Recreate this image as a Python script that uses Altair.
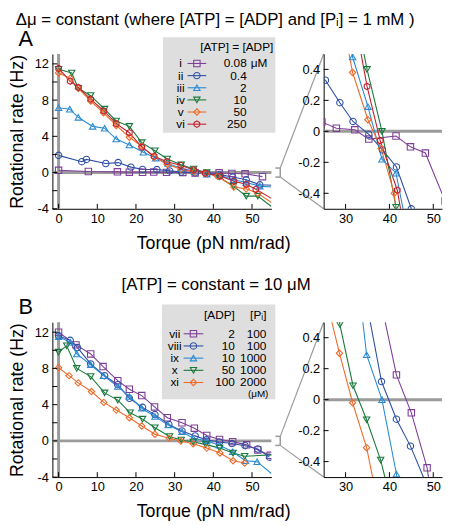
import altair as alt
import pandas as pd

FONT = "Liberation Sans"
GRAY = "#9b9b9b"

TITLE_A = "Δμ = constant (where [ATP]  = [ADP] and [Pᵢ] = 1 mM )"
TITLE_B = "[ATP] = constant = 10 μM"
X_TITLE = "Torque (pN nm/rad)"
Y_TITLE = "Rotational rate (Hz)"

# ---------------- Panel A : [ATP] = [ADP], [Pi] = 1 mM ----------------
A_series = ["i", "ii", "iii", "iv", "v", "vi"]
A_atp_adp = ["0.08", "0.4", "2", "10", "50", "250"]
A_colors = ["#7f3f98", "#2e4fa3", "#2a8bd4", "#1a7a3c", "#ee6c2c", "#c21f2f"]

A_i_torque = [0, 7.7, 15.2, 18.3, 21.7, 24.6, 27.9, 32.1, 35.3, 41.5, 44.8, 48.2, 52.7]
A_i_rate = [0.25, 0.12, 0.08, 0.04, 0.03, 0.06, 0.02, 0.01, -0.05, -0.03, -0.1, -0.14, -0.45]
A_ii_torque = [0, 6.0, 7.2, 12.2, 15.4, 18.7, 21.7, 25.4, 28.7, 31.7, 35.3, 38.4, 41.6, 45.0, 48.5, 52.0]
A_ii_rate = [1.9, 1.2, 1.45, 1.0, 1.1, 0.6, 0.35, 0.33, 0.185, 0.064, -0.02, -0.12, -0.23, -0.5, -0.8, -1.35]
A_iii_torque = [0, 2.9, 5.1, 8.8, 11.9, 14.9, 18.3, 21.9, 25.1, 28.3, 31.6, 35.1, 38.3, 41.5, 45.2, 48.5, 52.0]
A_iii_rate = [7.15, 7.0, 6.1, 5.1, 4.9, 3.7, 3.05, 2.25, 1.6, 1.0, 0.48, 0.16, -0.18, -0.27, -0.8, -1.1, -1.5]
A_iv_torque = [0, 3.4, 5.1, 8.3, 11.9, 14.9, 18.3, 21.5, 24.9, 28.1, 31.7, 34.9, 38.3, 41.5, 45.2, 48.5, 51.5]
A_iv_rate = [11.4, 11.0, 9.3, 8.5, 7.0, 5.7, 5.1, 3.3, 2.4, 1.5, 0.85, 0.4, 0.0, -0.49, -1.5, -2.6, -2.6]
A_v_torque = [0, 3.0, 5.1, 8.3, 11.6, 14.9, 18.3, 21.5, 24.7, 28.1, 31.6, 35.1, 38.1, 41.1, 45.3, 48.5, 51.5]
A_v_rate = [11.0, 10.4, 9.3, 7.9, 6.6, 5.2, 3.9, 2.9, 1.7, 0.9, 0.38, 0.075, -0.11, -0.4, -1.6, -1.8, -2.3]
A_vi_torque = [0, 3.0, 5.1, 8.3, 11.7, 14.9, 18.3, 21.5, 24.7, 28.0, 31.6, 34.9, 37.9, 41.8, 45.3, 48.5, 51.0]
A_vi_rate = [11.5, 10.1, 9.4, 8.1, 6.8, 5.4, 4.4, 2.8, 1.8, 1.2, 0.8, 0.29, -0.06, -0.38, -0.95, -1.3, -1.85]
# line continues (without marker) to the right edge of the axis
A_tail_series = ["ii", "iii", "iv", "v", "vi"]
A_tail_torque = [55, 55, 55, 55, 55]
A_tail_rate = [-1.4, -1.6, -3.75, -3.3, -2.85]

# ---------------- Panel B : [ATP] = 10 uM ----------------
B_series = ["vii", "viii", "ix", "x", "xi"]
B_adp = ["2", "10", "10", "50", "100"]
B_pi = ["100", "100", "1000", "1000", "2000"]
B_colors = ["#7f3f98", "#2e4fa3", "#2a8bd4", "#1a7a3c", "#ee6c2c"]

B_vii_torque = [0, 4.5, 8.3, 11.5, 15.3, 18.3, 21.5, 24.8, 28.1, 31.9, 35.1, 38.3, 41.6, 45.0, 48.6, 51.5, 54.7]
B_vii_rate = [12.0, 10.6, 9.6, 8.2, 6.65, 5.7, 5.0, 3.75, 2.55, 2.0, 1.4, 0.6, 0.16, -0.085, -0.44, -1.0, -1.6]
B_viii_torque = [0, 3.0, 4.9, 8.3, 11.9, 15.3, 18.3, 21.7, 24.9, 28.5, 31.9, 35.3, 38.2, 41.6, 44.8, 48.2, 51.5, 54.5]
B_viii_rate = [11.6, 11.1, 10.3, 8.5, 7.2, 6.2, 4.7, 3.7, 2.9, 1.82, 1.1, 0.55, 0.117, -0.126, -0.30, -0.53, -0.9, -1.8]
B_ix_torque = [0, 3.0, 4.7, 8.3, 11.6, 15.3, 18.3, 21.5, 24.9, 28.3, 31.9, 34.8, 38.3, 41.6, 45.0, 48.3, 51.3]
B_ix_rate = [11.5, 10.9, 9.6, 8.4, 7.2, 6.0, 4.9, 3.6, 2.7, 1.75, 1.0, 0.29, 0.0, -0.48, -1.2, -2.2, -2.3]
B_x_torque = [0, 2.1, 4.7, 8.3, 11.9, 15.3, 18.5, 21.7, 24.9, 28.7, 31.7, 34.8, 38.0, 41.6, 45.1, 48.1]
B_x_rate = [9.8, 10.5, 8.0, 7.1, 5.3, 4.5, 3.1, 2.4, 1.45, 0.485, 0.09, -0.13, -0.39, -0.8, -1.35, -1.7]
B_xi_torque = [0, 2.7, 5.1, 8.5, 11.7, 14.9, 18.3, 21.5, 24.9, 28.6, 31.6, 34.8, 38.3, 41.7, 45.1, 48.1]
B_xi_rate = [8.07, 7.2, 6.4, 5.45, 4.25, 3.4, 2.55, 1.64, 0.73, 0.30, -0.02, -0.31, -0.8, -1.34, -2.2, -2.45]
B_tail_series = ["ix", "x"]
B_tail_torque = [55, 55]
B_tail_rate = [-3.6, -1.55]

# tick values
MAIN_X_TICKS = [0, 10, 20, 30, 40, 50]
MAIN_Y_LABELS = [-4, 0, 4, 8, 12]
MAIN_Y_TICKS = [-4, -2, 0, 2, 4, 6, 8, 10, 12]
INSET_X_TICKS = [30, 40, 50]
INSET_Y_TICKS = [-0.4, -0.2, 0, 0.2, 0.4]

HEX = "M0,-1L0.866,-0.5L0.866,0.5L0,1L-0.866,0.5L-0.866,-0.5Z"
A_shapes = ["square", "circle", "triangle-up", "triangle-down", "diamond", HEX]
B_shapes = ["square", "circle", "triangle-up", "triangle-down", "diamond"]

MW, MH = 222, 157   # main panel plot area
IW, IH = 120, 157   # inset plot area
GAP = 53
MSIZE = 42

AXIS_STYLE = dict(
    domainColor="black", domainWidth=1, ticks=False, grid=False,
    labelFont=FONT, labelFontSize=13, labelColor="black", labelPadding=4,
    labelFontWeight="normal",
    titleFont=FONT, titleFontSize=18, titleFontWeight="normal", titleColor="black",
)


def build(names, xs_list, ys_list, tail_s, tail_x, tail_y):
    rows = []
    for s, xs, ys in zip(names, xs_list, ys_list):
        for x, y in zip(xs, ys):
            rows.append(dict(series=s, torque=x, rate=y, mark=1))
    for s, x, y in zip(tail_s, tail_x, tail_y):
        rows.append(dict(series=s, torque=x, rate=y, mark=0))
    return pd.DataFrame(rows)


dfA = build(A_series,
            [A_i_torque, A_ii_torque, A_iii_torque, A_iv_torque, A_v_torque, A_vi_torque],
            [A_i_rate, A_ii_rate, A_iii_rate, A_iv_rate, A_v_rate, A_vi_rate],
            A_tail_series, A_tail_torque, A_tail_rate)
dfB = build(B_series,
            [B_vii_torque, B_viii_torque, B_ix_torque, B_x_torque, B_xi_torque],
            [B_vii_rate, B_viii_rate, B_ix_rate, B_x_rate, B_xi_rate],
            B_tail_series, B_tail_torque, B_tail_rate)


def one(**kw):
    return pd.DataFrame({k: [v] for k, v in kw.items()})


def data_layers(df, X, Y, cs, ss):
    color = alt.Color("series:N", scale=cs, legend=None)
    shape = alt.Shape("series:N", scale=ss, legend=None)
    lines = alt.Chart(df).mark_line(clip=True, strokeWidth=1.1).encode(
        x=X, y=Y, color=color, detail="series:N", order="torque:Q")
    pts = alt.Chart(df).transform_filter("datum.mark == 1").mark_point(
        clip=True, filled=False, size=MSIZE, strokeWidth=1.1, opacity=1).encode(
        x=X, y=Y, color=color, shape=shape)
    return [lines, pts]


def tick_layers(X, Y, xt, yt, H):
    tx = alt.Chart(pd.DataFrame({"torque": xt})).mark_rule(color="black", strokeWidth=1).encode(
        x=X, y=alt.value(H), y2=alt.value(H - 5))
    ty = alt.Chart(pd.DataFrame({"rate": yt})).mark_rule(color="black", strokeWidth=1).encode(
        y=Y, x=alt.value(0), x2=alt.value(5))
    return [tx, ty]


def text_at(t, x, y, size, align="center"):
    return alt.Chart(one(t=t)).mark_text(
        font=FONT, fontSize=size, align=align, baseline="middle", color="black").encode(
        text="t:N", x=alt.value(x), y=alt.value(y))


def main_panel(df, names, colors, shapes, title, letter, legend):
    xs = alt.Scale(domain=[-1.6, 55], nice=False, zero=False)
    ys = alt.Scale(domain=[-4, 13.1], nice=False, zero=False)
    X = alt.X("torque:Q", scale=xs, title=X_TITLE,
              axis=alt.Axis(values=MAIN_X_TICKS, labelExpr="'' + datum.value",
                            titlePadding=9, titleX=163, titleAlign="center", **AXIS_STYLE))
    Y = alt.Y("rate:Q", scale=ys, title=Y_TITLE,
              axis=alt.Axis(values=MAIN_Y_LABELS, labelExpr="'' + datum.value",
                            titlePadding=8, **AXIS_STYLE))
    cs = alt.Scale(domain=names, range=colors)
    ss = alt.Scale(domain=names, range=shapes)

    zero_v = alt.Chart(one(torque=0)).mark_rule(color=GRAY, strokeWidth=3).encode(x=X)
    zero_h = alt.Chart(one(rate=0)).mark_rule(color=GRAY, strokeWidth=3).encode(y=Y)

    layers = [zero_v, zero_h] + data_layers(df, X, Y, cs, ss) + tick_layers(X, Y, MAIN_X_TICKS, MAIN_Y_TICKS, MH)
    layers += legend(cs, ss)

    # zoom bracket and connectors to the inset
    bx0, bx1 = MW + 4, MW + 9
    layers.append(alt.Chart(one(rate=0.5, rate2=-0.5)).mark_rule(color=GRAY, strokeWidth=1.5).encode(
        x=alt.value(bx1), y=Y, y2="rate2:Q"))
    for v in (0.5, -0.5):
        layers.append(alt.Chart(one(rate=v)).mark_rule(color=GRAY, strokeWidth=1.5).encode(
            x=alt.value(bx0), x2=alt.value(bx1), y=Y))
    layers.append(alt.Chart(one(rate=0.5)).mark_rule(color=GRAY, strokeWidth=1.2).encode(
        x=alt.value(bx1), y=Y, x2=alt.value(MW + GAP), y2=alt.value(0)))
    layers.append(alt.Chart(one(rate=-0.5)).mark_rule(color=GRAY, strokeWidth=1.2).encode(
        x=alt.value(bx1), y=Y, x2=alt.value(MW + GAP), y2=alt.value(MH)))

    layers.append(text_at(title[0], title[1], title[2], 17))
    layers.append(text_at(letter, -27, -15, 22))
    return alt.layer(*layers).properties(width=MW, height=MH)


def inset_panel(df, names, colors, shapes):
    xs = alt.Scale(domain=[25, 52], nice=False, zero=False)
    ys = alt.Scale(domain=[-0.5, 0.5], nice=False, zero=False)
    X = alt.X("torque:Q", scale=xs, title=None,
              axis=alt.Axis(values=INSET_X_TICKS, labelExpr="'' + datum.value", **AXIS_STYLE))
    Y = alt.Y("rate:Q", scale=ys, title=None,
              axis=alt.Axis(values=INSET_Y_TICKS, labelExpr="'' + datum.value", **AXIS_STYLE))
    cs = alt.Scale(domain=names, range=colors)
    ss = alt.Scale(domain=names, range=shapes)
    zero_h = alt.Chart(one(rate=0)).mark_rule(color=GRAY, strokeWidth=3).encode(y=Y)
    layers = [zero_h] + data_layers(df, X, Y, cs, ss) + tick_layers(X, Y, INSET_X_TICKS, INSET_Y_TICKS, IH)
    return alt.layer(*layers).properties(width=IW, height=IH)


def ly():
    return alt.Y("ly:Q", scale=None, axis=None)


LEG_TXT = dict(font=FONT, fontSize=12, baseline="middle", color="black")


def legend_A(cs, ss):
    d = pd.DataFrame({"series": A_series, "roman": A_series, "val": A_atp_adp})
    d["ly"] = [9.7 + 12.3 * k for k in range(len(d))]
    box = alt.Chart(one(b=1)).mark_rect(color="#dedede").encode(
        x=alt.value(112), x2=alt.value(226), y=alt.value(-17), y2=alt.value(80))
    head = alt.Chart(one(t="[ATP] = [ADP]")).mark_text(align="right", **LEG_TXT).encode(
        text="t:N", x=alt.value(224), y=alt.value(-7))
    rom = alt.Chart(d).mark_text(align="center", **LEG_TXT).encode(text="roman:N", x=alt.value(130), y=ly())
    seg = alt.Chart(d).mark_rule(strokeWidth=1.1).encode(
        x=alt.value(137), x2=alt.value(156), y=ly(), color=alt.Color("series:N", scale=cs, legend=None))
    pt = alt.Chart(d).mark_point(filled=False, size=MSIZE, strokeWidth=1.1, opacity=1).encode(
        x=alt.value(146.5), y=ly(), color=alt.Color("series:N", scale=cs, legend=None),
        shape=alt.Shape("series:N", scale=ss, legend=None))
    val = alt.Chart(d).mark_text(align="right", **LEG_TXT).encode(text="val:N", x=alt.value(197), y=ly())
    unit = alt.Chart(d.iloc[:1]).mark_text(align="left", **LEG_TXT).encode(
        text=alt.value("μM"), x=alt.value(201), y=ly())
    return [box, head, rom, seg, pt, val, unit]


def legend_B(cs, ss):
    d = pd.DataFrame({"series": B_series, "roman": B_series, "adp": B_adp, "pi": B_pi})
    d["ly"] = [11.7 + 12.35 * k for k in range(len(d))]
    box = alt.Chart(one(b=1)).mark_rect(color="#dedede").encode(
        x=alt.value(111), x2=alt.value(226), y=alt.value(-18), y2=alt.value(78))
    h1 = alt.Chart(one(t="[ADP]")).mark_text(align="right", **LEG_TXT).encode(
        text="t:N", x=alt.value(185), y=alt.value(-7))
    h2 = alt.Chart(one(t="[Pᵢ]")).mark_text(align="right", **LEG_TXT).encode(
        text="t:N", x=alt.value(217), y=alt.value(-7))
    rom = alt.Chart(d).mark_text(align="center", **LEG_TXT).encode(text="roman:N", x=alt.value(124), y=ly())
    seg = alt.Chart(d).mark_rule(strokeWidth=1.1).encode(
        x=alt.value(133), x2=alt.value(153), y=ly(), color=alt.Color("series:N", scale=cs, legend=None))
    pt = alt.Chart(d).mark_point(filled=False, size=MSIZE, strokeWidth=1.1, opacity=1).encode(
        x=alt.value(143), y=ly(), color=alt.Color("series:N", scale=cs, legend=None),
        shape=alt.Shape("series:N", scale=ss, legend=None))
    v1 = alt.Chart(d).mark_text(align="right", **LEG_TXT).encode(text="adp:N", x=alt.value(185), y=ly())
    v2 = alt.Chart(d).mark_text(align="right", **LEG_TXT).encode(text="pi:N", x=alt.value(217), y=ly())
    unit = alt.Chart(one(t="(μM)")).mark_text(align="right", font=FONT, fontSize=10,
                                              baseline="middle", color="black").encode(
        text="t:N", x=alt.value(219), y=alt.value(73))
    return [box, h1, h2, rom, seg, pt, v1, v2, unit]


mainA = main_panel(dfA, A_series, A_colors, A_shapes, (TITLE_A, 165, -34), "A", legend_A)
insetA = inset_panel(dfA, A_series, A_colors, A_shapes)
mainB = main_panel(dfB, B_series, B_colors, B_shapes, (TITLE_B, 166, -38), "B", legend_B)
insetB = inset_panel(dfB, B_series, B_colors, B_shapes)

chart = alt.concat(
    mainA, insetA, mainB, insetB, columns=2,
    spacing={"row": 115, "column": GAP}, bounds="flush", align="each", padding=0,
).configure_view(stroke=None).configure_axis(**AXIS_STYLE)

chart.save("out.html", embed_options={"renderer": "svg", "actions": False})
